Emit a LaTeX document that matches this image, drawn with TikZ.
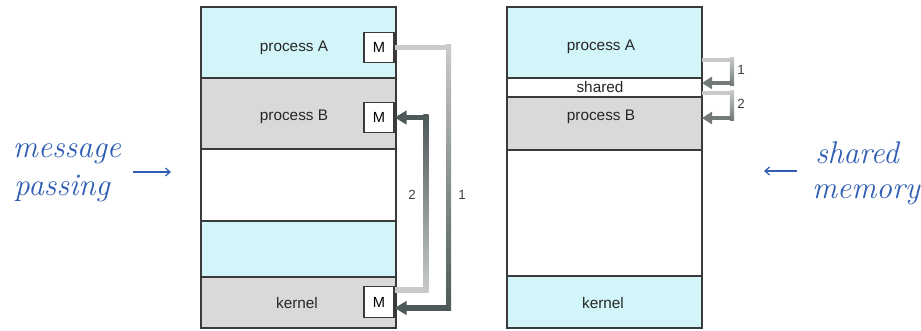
\documentclass[tikz,border=0pt]{standalone}
\usepackage{fontspec}
\setmainfont{Liberation Sans}
\newfontfamily\handfont{Latin Modern Roman}
\usetikzlibrary{arrows.meta}
\definecolor{cyanc}{HTML}{D2F5F9}
\definecolor{grayc}{HTML}{D9D9D9}
\definecolor{edgec}{HTML}{3A3A3A}
\definecolor{inkc}{HTML}{2E5DB3}
\definecolor{arrlight}{HTML}{C9CBCB}
\definecolor{arrdark}{HTML}{4D5858}
\begin{document}
\begin{tikzpicture}[x=0.75pt,y=-0.75pt,
  seg/.style={draw=edgec, line width=0.8pt, minimum width=146.25pt, inner sep=0pt, outer sep=0pt},
  mbox/.style={draw=edgec, fill=white, line width=0.9pt, minimum width=22.5pt, minimum height=23pt, inner sep=0pt, font=\fontsize{11}{12}\selectfont},
  lbl/.style={font=\fontsize{11.5}{13}\selectfont, text=black!85},
  num/.style={font=\fontsize{10}{11}\selectfont, text=black!75},
  shaft/.style={line width=3.8pt, line cap=butt},
  shaftS/.style={line width=3.3pt, line cap=butt},
  tipL/.style={-{Triangle[length=9pt,width=10pt]}},
  tipS/.style={-{Triangle[length=7.5pt,width=9pt]}},
  hand/.style={font=\handfont\itshape\fontsize{23.5}{24}\selectfont, text=inkc, inner sep=0pt, anchor=base},
  inkarrow/.style={draw=inkc, line width=0.9pt, -{Straight Barb[length=3.5pt,width=6pt]}}
]
\useasboundingbox (0,0) rectangle (921,330);

% ---------- left column (message passing) ----------
\node[seg, fill=cyanc, minimum height=53.25pt] (A1) at (298.5,42.5) {};
\node[seg, fill=grayc, minimum height=53.25pt] (B1) at (298.5,113.5) {};
\node[seg, fill=white, minimum height=54pt] (E1) at (298.5,185) {};
\node[seg, fill=cyanc, minimum height=42pt] (C1) at (298.5,249) {};
\node[seg, fill=grayc, minimum height=38.25pt] (K1) at (298.5,302.5) {};

\node[lbl] (LA1) at (294,48) {process A};
\node[lbl] (LB1) at (294,117) {process B};
\node[lbl] (LK1) at (297,303) {kernel};

\node[mbox] (MA) at (379,47.5) {M};
\node[mbox] (MB) at (379,117.5) {M};
\node[mbox] (MK) at (379,302) {M};

% arrow 1 : process A -> kernel
\coordinate (s1) at (MA.east);
\coordinate (t1) at ([yshift=-4.5pt]MK.east);
\coordinate (c1a) at ([xshift=40.5pt]s1);
\coordinate (c1b) at (c1a |- t1);
\draw[shaft, draw=arrlight] (s1) -- (c1a);
\shade[top color=arrlight, bottom color=arrdark] ([xshift=-1.9pt,yshift=1.9pt]c1a) rectangle ([xshift=1.9pt,yshift=-1.9pt]c1b);
\draw[shaft, draw=arrdark, tipL] (c1b) -- (t1);

% arrow 2 : kernel -> process B
\coordinate (s2) at ([yshift=9pt]MK.east);
\coordinate (t2) at (MB.east);
\coordinate (c2a) at ([xshift=23.5pt]s2);
\coordinate (c2b) at (c2a |- t2);
\draw[shaft, draw=arrlight] (s2) -- (c2a);
\shade[top color=arrdark, bottom color=arrlight] ([xshift=-1.9pt,yshift=-1.9pt]c2a) rectangle ([xshift=1.9pt,yshift=1.9pt]c2b);
\draw[shaft, draw=arrdark, tipL] (c2b) -- (t2);

\node[num] (n2L) at (412,195) {2};
\node[num] (n1L) at (462,195) {1};

% ---------- right column (shared memory) ----------
\node[seg, fill=cyanc, minimum height=53.25pt] (A2) at (604.5,42.5) {};
\node[seg, fill=white, minimum height=14.25pt] (S2) at (604.5,87.5) {};
\node[seg, fill=grayc, minimum height=39.75pt] (B2) at (604.5,123.5) {};
\node[seg, fill=white, minimum height=94.5pt] (E2) at (604.5,213) {};
\node[seg, fill=cyanc, minimum height=39pt] (K2) at (604.5,302) {};
\draw[draw=edgec, line width=1.6pt] (S2.south west) -- (S2.south east);

\node[lbl] (LA2) at (601,47) {process A};
\node[lbl] (LS2) at (600,87) {shared};
\node[lbl] (LB2) at (601,117) {process B};
\node[lbl] (LK2) at (603,303) {kernel};

% arrow 1 : process A -> shared
\coordinate (r1s) at ([yshift=-13.1pt]A2.east);
\coordinate (r1t) at ([yshift=3.4pt]S2.east);
\coordinate (r1a) at ([xshift=22.5pt]r1s);
\coordinate (r1b) at (r1a |- r1t);
\draw[shaftS, draw=arrlight] (r1s) -- (r1a);
\shade[top color=arrlight, bottom color=arrdark!80] ([xshift=-1.65pt,yshift=1.65pt]r1a) rectangle ([xshift=1.65pt,yshift=-1.65pt]r1b);
\draw[shaftS, draw=arrdark!80, tipS] (r1b) -- (r1t);

% arrow 2 : shared -> process B
\coordinate (r2s) at ([yshift=-4.1pt]S2.east);
\coordinate (r2t) at ([yshift=4.1pt]B2.east);
\coordinate (r2a) at ([xshift=22.5pt]r2s);
\coordinate (r2b) at (r2a |- r2t);
\draw[shaftS, draw=arrlight] (r2s) -- (r2a);
\shade[top color=arrlight, bottom color=arrdark!80] ([xshift=-1.65pt,yshift=1.65pt]r2a) rectangle ([xshift=1.65pt,yshift=-1.65pt]r2b);
\draw[shaftS, draw=arrdark!80, tipS] (r2b) -- (r2t);

\node[num] (n1R) at (741,70) {1};
\node[num] (n2R) at (741,104) {2};

% ---------- handwritten notes ----------
\node[hand] (hm1) at (67,157) {message};
\node[hand] (hm2) at (62,195) {passing};
\coordinate (hma) at (133,172);
\coordinate (hmb) at (171,172);
\draw[inkarrow] (hma) -- (hmb);

\node[hand] (hs1) at (857,163) {shared};
\node[hand] (hs2) at (866,198) {memory};
\coordinate (hsa) at (797,171);
\coordinate (hsb) at (764,171);
\draw[inkarrow] (hsa) -- (hsb);
\end{tikzpicture}
\end{document}
